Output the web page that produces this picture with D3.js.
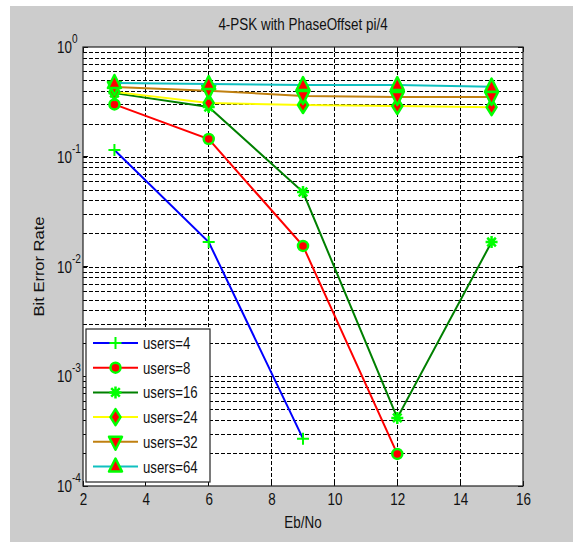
<!DOCTYPE html>
<html>
<head>
<meta charset="utf-8">
<script src="https://cdn.jsdelivr.net/npm/d3@7"></script>
<style>
  body { margin: 0; background: #fff; }
  svg { display: block; font-family: "Liberation Sans", Arial, sans-serif; }
</style>
</head>
<body>
<div id="chart"></div>
<script>
/* Data */
const EBNO = [3, 6, 9, 12, 15];
const USERS = ["users=4", "users=8", "users=16", "users=24", "users=32", "users=64"];
const BER_4  = [0.115, 0.0167, 2.7e-4];
const BER_8  = [0.30, 0.145, 0.0154, 1.96e-4];
const BER_16 = [0.38, 0.284, 0.0477, 4.17e-4, 0.0167];
const BER_24 = [0.39, 0.309, 0.296, 0.29, 0.283];
const BER_32 = [0.432, 0.40, 0.358, 0.35, 0.35];
const BER_64 = [0.47, 0.46, 0.45, 0.45, 0.435];
const X_TICKS = [2, 4, 6, 8, 10, 12, 14, 16];
const Y_DECADES = [-4, -3, -2, -1, 0];

const SERIES = [
  { name: USERS[0], ber: BER_4,  color: "#0000ff", marker: "plus" },
  { name: USERS[1], ber: BER_8,  color: "#ff0000", marker: "circle" },
  { name: USERS[2], ber: BER_16, color: "#008000", marker: "star" },
  { name: USERS[3], ber: BER_24, color: "#ffff00", marker: "diamond" },
  { name: USERS[4], ber: BER_32, color: "#c08010", marker: "tridown" },
  { name: USERS[5], ber: BER_64, color: "#10c0c0", marker: "triup" },
];

const W = 573, H = 542;
const SX = 0.84; // reference text is horizontally squeezed
const plot = { left: 83, right: 523, top: 47, bottom: 486 };

const svg = d3.select("#chart").append("svg").attr("width", W).attr("height", H);

svg.append("rect").attr("x", 10).attr("y", 6).attr("width", W - 10).attr("height", H - 6)
  .attr("fill", "#cccccc");

const x = d3.scaleLinear().domain([2, 16]).range([plot.left, plot.right]);
const y = d3.scaleLog().domain([1e-4, 1]).range([plot.bottom, plot.top]);

svg.append("rect").attr("x", plot.left).attr("y", plot.top)
  .attr("width", plot.right - plot.left).attr("height", plot.bottom - plot.top)
  .attr("fill", "#fff");

/* Grid */
const grid = svg.append("g").attr("stroke", "#000").attr("stroke-width", 1)
  .attr("stroke-dasharray", "3.5,2.5").attr("shape-rendering", "crispEdges");
grid.selectAll(".gx").data(X_TICKS.slice(1, -1)).enter().append("line")
  .attr("x1", d => x(d)).attr("x2", d => x(d))
  .attr("y1", plot.top).attr("y2", plot.bottom);
const yGrid = [];
Y_DECADES.slice(0, -1).forEach(e => {
  for (let m = 1; m <= 9; m++) if (!(m === 1 && e === -4)) yGrid.push(m * Math.pow(10, e));
});
grid.selectAll(".gy").data(yGrid).enter().append("line")
  .attr("x1", plot.left).attr("x2", plot.right)
  .attr("y1", d => Math.round(y(d)) + 0.5).attr("y2", d => Math.round(y(d)) + 0.5);

/* Ticks inside the box on all sides */
const ticks = svg.append("g").attr("stroke", "#000").attr("shape-rendering", "crispEdges");
X_TICKS.forEach(v => {
  ticks.append("line").attr("x1", x(v)).attr("x2", x(v)).attr("y1", plot.bottom).attr("y2", plot.bottom - 5);
  ticks.append("line").attr("x1", x(v)).attr("x2", x(v)).attr("y1", plot.top).attr("y2", plot.top + 5);
});
Y_DECADES.forEach(e => {
  const v = Math.pow(10, e);
  ticks.append("line").attr("x1", plot.left).attr("x2", plot.left + 5).attr("y1", y(v)).attr("y2", y(v));
  ticks.append("line").attr("x1", plot.right).attr("x2", plot.right - 5).attr("y1", y(v)).attr("y2", y(v));
});

/* x axis labels */
const xAxis = svg.append("g").attr("transform", `translate(0,${plot.bottom})`)
  .call(d3.axisBottom(x).tickValues(X_TICKS).tickSize(0).tickPadding(8).tickFormat(d3.format("d")));
xAxis.select(".domain").remove();
xAxis.selectAll("text").attr("font-size", 16).attr("fill", "#111")
  .attr("font-family", "Liberation Sans, Arial, sans-serif")
  .attr("transform", `scale(${SX},1)`);

/* y axis labels: 10^e */
Y_DECADES.forEach(e => {
  const t = svg.append("text").attr("transform", `translate(57,${y(Math.pow(10, e)) + 6}) scale(${SX},1)`)
    .attr("font-size", 16).attr("fill", "#111");
  t.append("tspan").text("10");
  t.append("tspan").attr("dy", -10).attr("font-size", 12).text(String(e));
});

/* Box */
svg.append("rect").attr("x", plot.left).attr("y", plot.top)
  .attr("width", plot.right - plot.left).attr("height", plot.bottom - plot.top)
  .attr("fill", "none").attr("stroke", "#222").attr("stroke-width", 1.2);

/* Title and axis titles */
svg.append("text").attr("transform", `translate(${(plot.left + plot.right) / 2},30) scale(${SX},1)`)
  .attr("text-anchor", "middle").attr("font-size", 16).attr("fill", "#111")
  .text("4-PSK with PhaseOffset pi/4");
svg.append("text").attr("transform", `translate(${(plot.left + plot.right) / 2},528) scale(${SX},1)`)
  .attr("text-anchor", "middle").attr("font-size", 16).attr("fill", "#111")
  .text("Eb/No");
svg.append("text").attr("transform", `translate(44,${(plot.top + plot.bottom) / 2}) scale(${SX},1) rotate(-90)`)
  .attr("text-anchor", "middle").attr("font-size", 16.5).attr("fill", "#111")
  .text("Bit Error Rate");

/* Markers */
const MK_GREEN = "#00ff00", MK_RED = "#ff0000";
function drawMarker(g, type, cx, cy) {
  const m = g.append("g").attr("transform", `translate(${cx},${cy})`);
  if (type === "plus") {
    m.append("path").attr("d", "M-6,0H6M0,-6V6").attr("stroke", MK_GREEN).attr("stroke-width", 2).attr("fill", "none");
  } else if (type === "star") {
    m.append("path").attr("d", "M-6,0H6M0,-6V6M-4.3,-4.3L4.3,4.3M-4.3,4.3L4.3,-4.3")
      .attr("stroke", MK_GREEN).attr("stroke-width", 2.5).attr("fill", "none");
  } else {
    let d;
    if (type === "circle") d = d3.arc()({ innerRadius: 0, outerRadius: 5, startAngle: 0, endAngle: 2 * Math.PI });
    if (type === "diamond") d = "M0,-8L5,0L0,8L-5,0Z";
    if (type === "triup") d = "M0,-8L6.5,5L-6.5,5Z";
    if (type === "tridown") d = "M0,8L6.5,-5L-6.5,-5Z";
    m.append("path").attr("d", d).attr("fill", MK_RED).attr("stroke", MK_GREEN)
      .attr("stroke-width", 2.5).attr("stroke-linejoin", "round");
  }
}

const line = d3.line().x((d, i) => x(EBNO[i])).y(d => y(d));
const plotG = svg.append("g");
SERIES.forEach(s => {
  plotG.append("path").datum(s.ber).attr("d", line).attr("fill", "none")
    .attr("stroke", s.color).attr("stroke-width", 2);
  s.ber.forEach((v, i) => drawMarker(plotG, s.marker, x(EBNO[i]), y(v)));
});

/* Legend */
const lg = svg.append("g");
lg.append("rect").attr("x", 86).attr("y", 329).attr("width", 124).attr("height", 153)
  .attr("fill", "#fff").attr("stroke", "#222").attr("stroke-width", 1.2);
SERIES.forEach((s, i) => {
  const cy = 343 + i * 24.7;
  lg.append("line").attr("x1", 93).attr("x2", 138).attr("y1", cy).attr("y2", cy)
    .attr("stroke", s.color).attr("stroke-width", 2);
  drawMarker(lg, s.marker, 115.5, cy);
  lg.append("text").attr("transform", `translate(143,${cy + 6}) scale(0.8,1)`)
    .attr("font-size", 16.5).attr("fill", "#111").text(s.name);
});
</script>
</body>
</html>
